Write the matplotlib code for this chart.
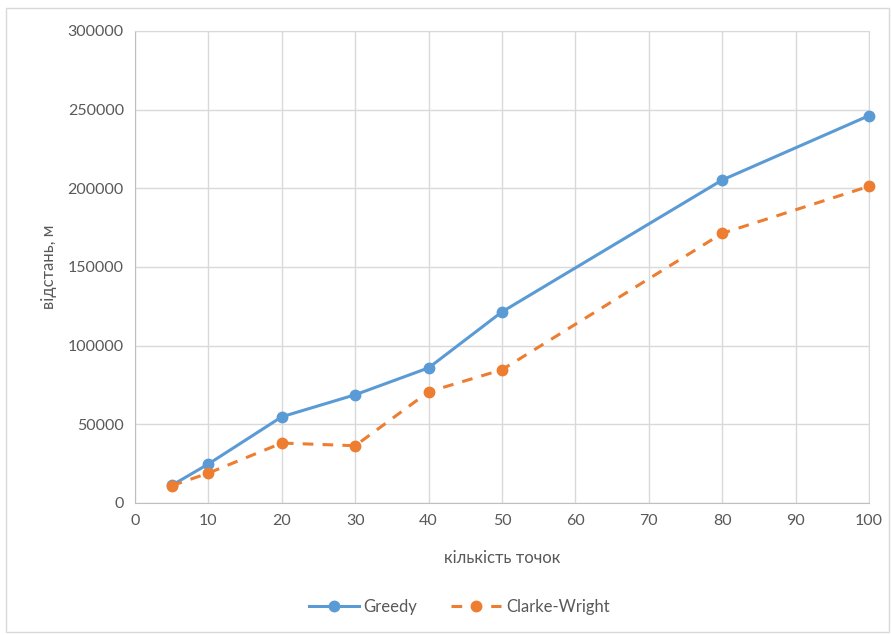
import matplotlib.pyplot as plt
from matplotlib.patches import Rectangle

points = [5, 10, 20, 30, 40, 50, 80, 100]
greedy = [11200, 24800, 54800, 68800, 85900, 121500, 205300, 246200]
clarke_wright = [11000, 19000, 38100, 36400, 70700, 84700, 171400, 201300]

plt.rcParams['font.family'] = ['Lato', 'DejaVu Sans']
txt = '#595959'
grid = '#d9d9d9'

fig = plt.figure(figsize=(8.91, 6.35), dpi=100)
ax = fig.add_axes([135/891, (635-503)/635, (869-135)/891, (503-31)/635])

# outer chart border
fig.patches.append(Rectangle((6/891, 3/635), 883/891, 624/635, transform=fig.transFigure,
                             fill=False, edgecolor='#d9d9d9', linewidth=1))

ax.plot(points, greedy, color='#5b9bd5', linewidth=2.2, marker='o', markersize=7.5,
        label='Greedy', zorder=3, clip_on=False)
ax.plot(points, clarke_wright, color='#ed7d31', linewidth=2.2, linestyle=(0, (3.5, 3)),
        marker='o', markersize=7.5, label='Clarke-Wright', zorder=3, clip_on=False)

ax.set_xlim(0, 100)
ax.set_ylim(0, 300000)
ax.set_xticks(range(0, 101, 10))
ax.set_yticks(range(0, 300001, 50000))
ax.grid(True, color=grid, linewidth=1)
ax.set_axisbelow(True)
for s in ax.spines.values():
    s.set_color(grid)
ax.spines['left'].set_color('#bfbfbf')
ax.spines['bottom'].set_color('#bfbfbf')
ax.tick_params(length=0, labelsize=11.5, colors=txt, pad=8)

ax.set_xlabel('кількість точок', fontsize=12, color=txt, labelpad=16)
ax.set_ylabel('відстань, м', fontsize=12, color=txt, labelpad=8)

fig.legend(*ax.get_legend_handles_labels(), loc='center', bbox_to_anchor=(459/891, 28/635),
           ncol=2, frameon=False, fontsize=12, labelcolor=txt, handlelength=3.0,
           handletextpad=0.3, columnspacing=2.0)

fig.savefig('out.png', dpi=100)
